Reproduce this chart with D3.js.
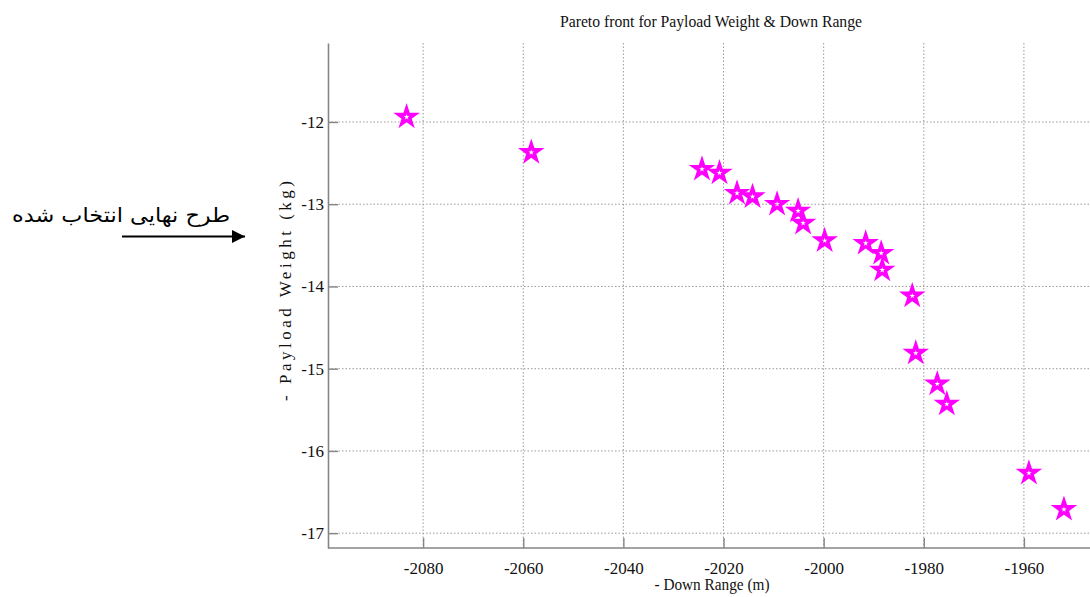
<!DOCTYPE html>
<html>
<head>
<meta charset="utf-8">
<script src="https://cdn.jsdelivr.net/npm/d3@7"></script>
<style>
  html, body { margin:0; padding:0; background:#fff; overflow:hidden; }
  svg { display:block; font-family:"Liberation Serif","Times New Roman",serif; }
  svg .tick text { font-family:"Liberation Serif","Times New Roman",serif; }
</style>
</head>
<body>
<div id="chart"></div>
<script>
// Pareto front values
const downRange = [-2083.3, -2058.4, -2024.3, -2020.8, -2017.3, -2014.2, -2009.3, -2005.1, -2004.1,
  -1999.8, -1991.6, -1988.5, -1988.3, -1982.3, -1981.6, -1977.3, -1975.4, -1959.0, -1952.0];
const payloadWeight = [-11.94, -12.37, -12.575, -12.62, -12.867, -12.908, -13.0, -13.082, -13.23,
  -13.443, -13.475, -13.596, -13.80, -14.115, -14.81, -15.185, -15.43, -16.27, -16.71];
const xTicks = [-2080, -2060, -2040, -2020, -2000, -1980, -1960];
const yTicks = [-12, -13, -14, -15, -16, -17];
const titleText = 'Pareto front for Payload Weight & Down Range';
const xLabel = '- Down Range (m)';
const yLabel = '- Payload Weight (kg)';
const noteText = 'طرح نهایی انتخاب شده';

(function(){
  const W = 1090, H = 597;
  const left = 328, top = 43, bottom = 548;
  const serif = '"Liberation Serif","Times New Roman",serif';
  const svg = d3.select('#chart').append('svg').attr('width', W).attr('height', H);

  const x = d3.scaleLinear().domain([-2099, -1945]).range([left, 1099]);
  const y = d3.scaleLinear().domain([-17.18, -11.04]).range([bottom, top]);
  const fmt = d => String(d); // plain hyphen, no separators

  // grid
  const grid = svg.append('g').attr('stroke', '#9a9a9a').attr('stroke-width', 1).attr('stroke-dasharray', '1.5,2');
  grid.selectAll('line.gx').data(xTicks).enter().append('line')
    .attr('x1', d=>x(d)).attr('x2', d=>x(d)).attr('y1', top).attr('y2', bottom);
  grid.selectAll('line.gy').data(yTicks).enter().append('line')
    .attr('x1', left).attr('x2', W).attr('y1', d=>y(d)).attr('y2', d=>y(d));

  // axes (ticks point inward like matlab)
  const xAxis = svg.append('g').attr('transform', `translate(0,${bottom})`)
    .call(d3.axisBottom(x).tickValues(xTicks).tickFormat(fmt).tickSize(-10).tickPadding(14).tickSizeOuter(0));
  const yAxis = svg.append('g').attr('transform', `translate(${left},0)`)
    .call(d3.axisLeft(y).tickValues(yTicks).tickFormat(fmt).tickSize(-10).tickPadding(5).tickSizeOuter(0));
  [xAxis, yAxis].forEach(a=>{
    a.attr('font-family', serif).attr('font-size', 17);
    a.select('.domain').attr('stroke', '#858585').attr('stroke-width', 1.6);
    a.selectAll('.tick line').attr('stroke', '#858585').attr('stroke-width', 1.4);
    a.selectAll('.tick text').attr('fill', '#111').style('font-family', serif);
  });
  xAxis.select('.domain').attr('d', `M${left},0H${W}`);
  yAxis.selectAll('.tick text').attr('x', -4);

  // stars
  const star = d3.symbol().type(d3.symbolStar).size(80);
  svg.append('g').selectAll('path').data(downRange).enter().append('path')
    .attr('d', star)
    .attr('transform', (d,i)=>`translate(${x(d)},${y(payloadWeight[i])})`)
    .attr('fill', 'none')
    .attr('stroke', '#ff00ff')
    .attr('stroke-width', 3.4)
    .attr('stroke-linejoin', 'miter');

  // title and labels
  svg.append('text').attr('x', 711).attr('y', 27).attr('text-anchor', 'middle')
    .attr('fill', '#111').style('font-size', '16px')
    .attr('textLength', 302).attr('lengthAdjust', 'spacingAndGlyphs')
    .text(titleText);
  svg.append('text').attr('x', 712).attr('y', 590).attr('text-anchor', 'middle')
    .attr('fill', '#111').style('font-size', '16px')
    .attr('textLength', 115).attr('lengthAdjust', 'spacingAndGlyphs')
    .text(xLabel);
  svg.append('text').attr('transform', 'translate(291,291) rotate(-90)')
    .attr('text-anchor', 'middle').attr('fill', '#111').style('font-size', '17px')
    .attr('textLength', 220).attr('lengthAdjust', 'spacing')
    .text(yLabel);

  // annotation arrow
  const defs = svg.append('defs');
  defs.append('marker').attr('id', 'head').attr('viewBox', '0 0 10 10')
    .attr('refX', 10).attr('refY', 5).attr('markerWidth', 13).attr('markerHeight', 13)
    .attr('markerUnits', 'userSpaceOnUse').attr('orient', 'auto')
    .append('path').attr('d', 'M0,0L10,5L0,10Z').attr('fill', '#000');
  svg.append('line').attr('x1', 122).attr('x2', 245).attr('y1', 236.5).attr('y2', 236.5)
    .attr('stroke', '#000').attr('stroke-width', 2.2).attr('marker-end', 'url(#head)');
  svg.append('text').attr('x', 230).attr('y', 222).attr('text-anchor', 'end')
    .style('font-family', '"DejaVu Serif","DejaVu Sans",serif')
    .style('font-size', '20px').attr('fill', '#000')
    .attr('textLength', 218).attr('lengthAdjust', 'spacingAndGlyphs')
    .text(noteText);
})();
</script>
</body>
</html>
